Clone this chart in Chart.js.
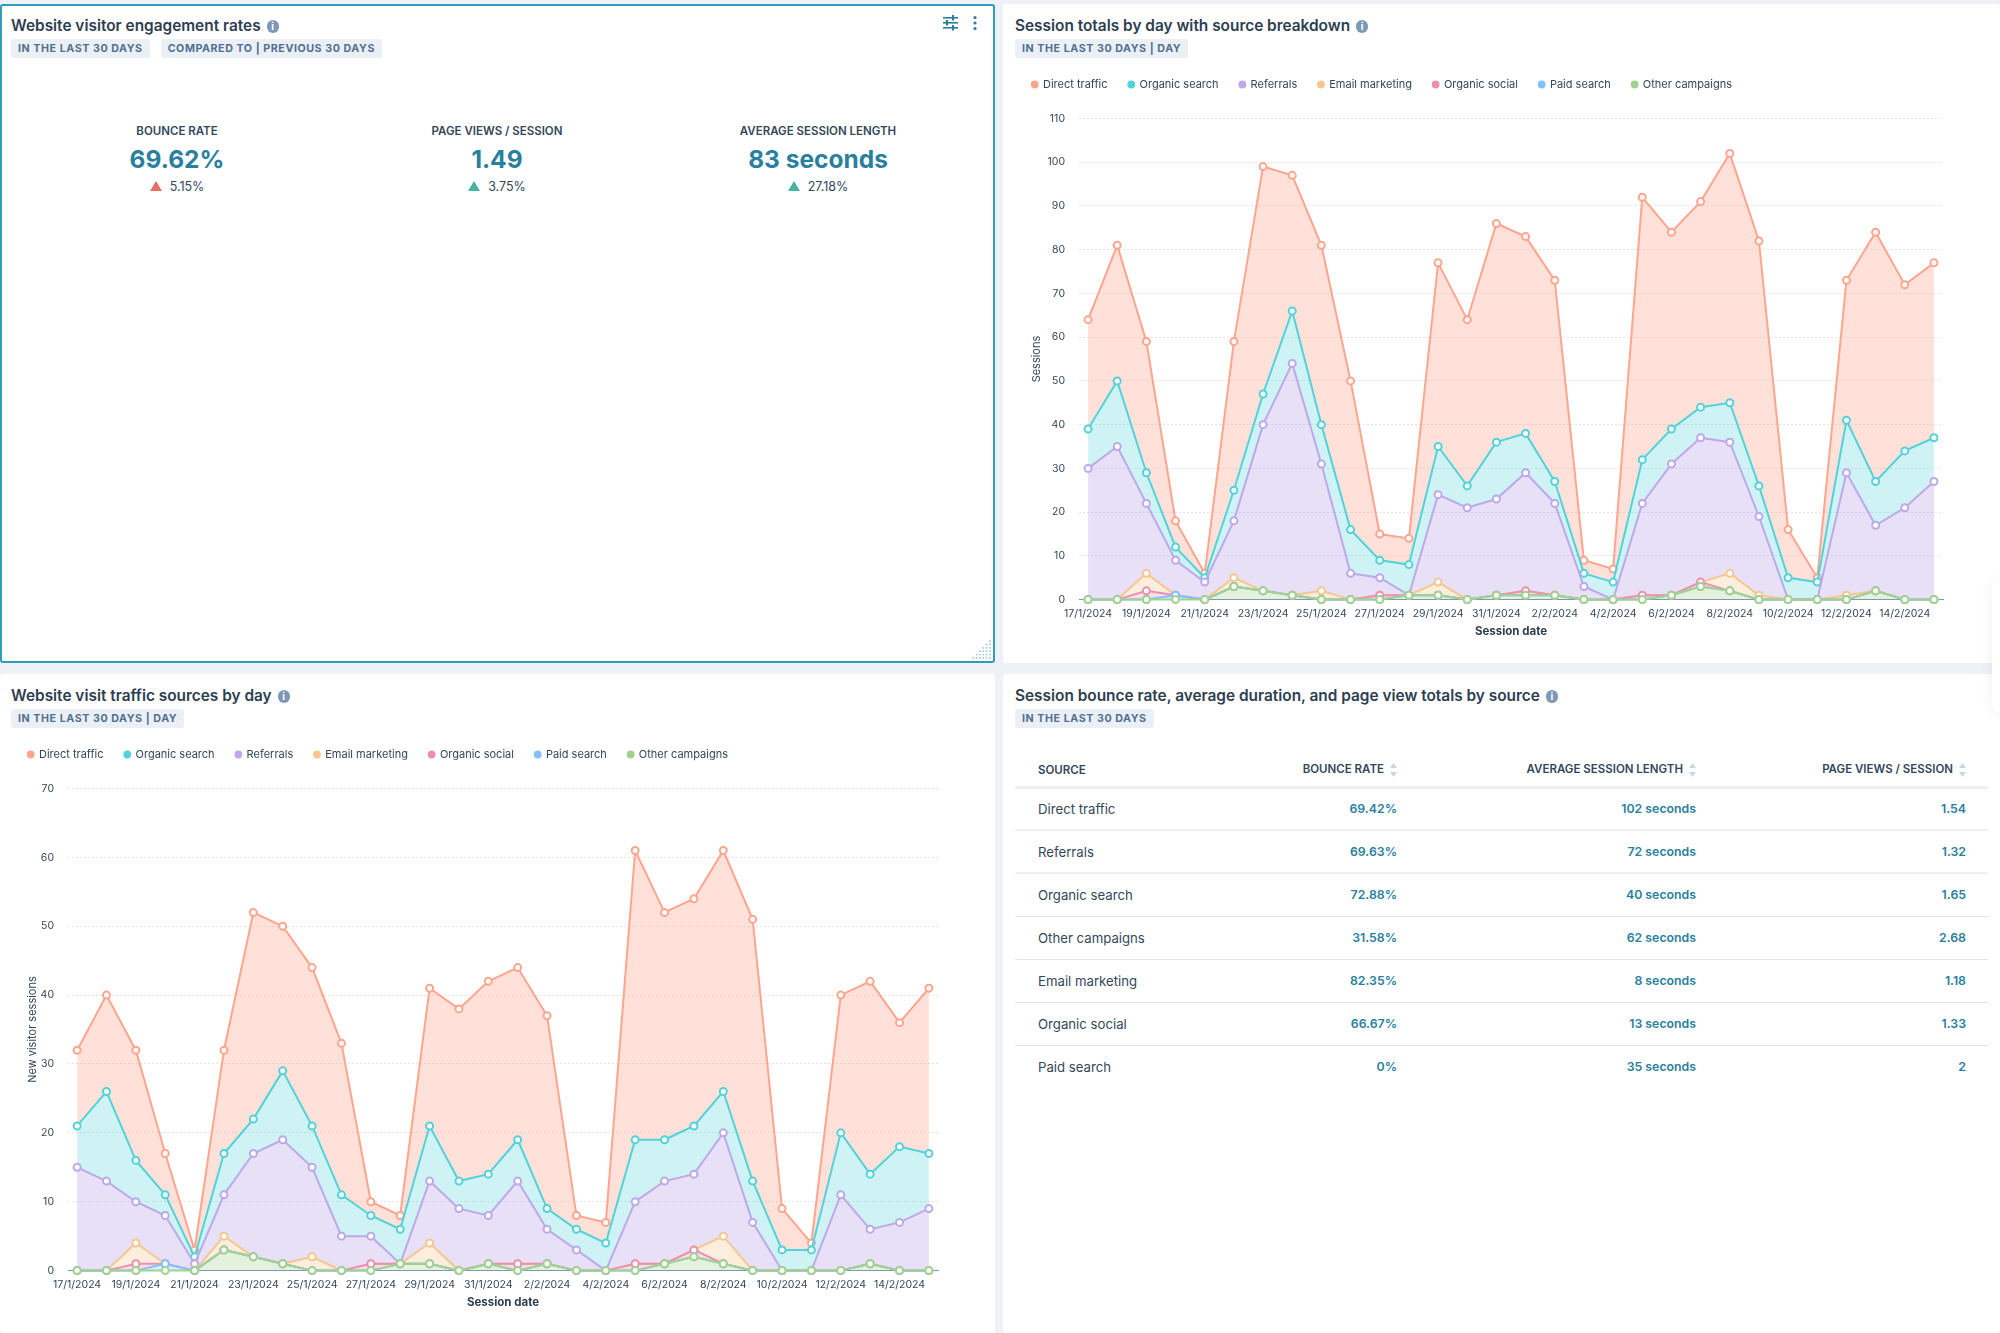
<!DOCTYPE html>
<html>
<head>
<meta charset="utf-8">
<title>Website analytics dashboard</title>
<script src="https://cdn.jsdelivr.net/npm/chart.js@4/dist/chart.umd.js"></script>
<style>
* { box-sizing: border-box; }
html, body { margin: 0; padding: 0; }
body { width: 2000px; height: 1333px; position: relative; overflow: hidden; background: #eef1f6; font-family: Inter, sans-serif; color: #33475b; }
.card { position: absolute; background: #fff; border-radius: 3px; }
#card1 { left: 0; top: 4px; width: 995px; height: 659px; border: 2px solid #2f9cb9; }
#card2 { left: 1003px; top: 4px; width: 997px; height: 659px; }
#card3 { left: 0; top: 674px; width: 995px; height: 659px; }
#card4 { left: 1003px; top: 674px; width: 997px; height: 659px; }
.title { position: absolute; top: 13px; left: 12px; font-size: 15.4px; font-weight: 600; color: #2d3e50; white-space: nowrap; line-height: 18px; }
.info { display: inline-block; width: 12px; height: 13px; border-radius: 6px; background: #7c98b6; color: #fff; font-size: 10px; font-weight: 700; line-height: 13px; text-align: center; margin-left: 6px; vertical-align: 1px; }
.badges { position: absolute; top: 35px; left: 12px; display: flex; gap: 11px; }
.badge { height: 19px; line-height: 19px; padding: 0 7px; background: #eaf0f6; border-radius: 3px; color: #516f90; font-size: 10.7px; font-weight: 700; letter-spacing: 0.55px; white-space: nowrap; }
.kpi { position: absolute; top: 0; width: 300px; text-align: center; }
.kpi .name { position: absolute; top: 118px; width: 100%; font-size: 11.5px; font-weight: 600; line-height: 14px; }
.kpi .val { position: absolute; top: 135px; width: 100%; font-size: 24.5px; font-weight: 700; color: #2a7f9e; line-height: 36px; }
.kpi .delta { position: absolute; top: 174px; width: 100%; font-size: 12.5px; line-height: 14px; }
.tri { display: inline-block; width: 0; height: 0; border-left: 6.5px solid transparent; border-right: 6.5px solid transparent; margin-right: 8px; }
canvas { position: absolute; }
#table { position: absolute; left: 12px; top: 70px; width: 973px; table-layout: fixed; border-collapse: collapse; font-size: 12.3px; }
#table th { height: 43px; padding: 0 0 9px 0; font-size: 11.5px; font-weight: 600; text-align: right; vertical-align: bottom; border-bottom: 3px solid #eaf0f6; white-space: nowrap; }
#table td { height: 43px; padding: 0; text-align: right; font-weight: 600; color: #2a7f9e; border-bottom: 1px solid #dfe3eb; }
#table tr:nth-child(1) td, #table tr:nth-child(2) td { border-bottom-width: 2px; border-bottom-color: #eaf0f6; }
#table tr:last-child td { border-bottom: none; }
#table th:first-child, #table td:first-child { text-align: left; padding-left: 23px; font-weight: 400; font-size: 13.2px; color: #33475b; }
#table th:first-child { font-weight: 600; font-size: 11.5px; }
#table th:last-child, #table td:last-child { padding-right: 22px; }
.sort { display: inline-block; margin-left: 6px; vertical-align: middle; }
#sidePanel { position: absolute; left: 1992px; top: 582px; width: 30px; height: 130px; background: #fff; border-radius: 6px 0 0 6px; box-shadow: 0 0 14px rgba(45,62,80,.08); }
</style>
</head>
<body>
<div class="card" id="card1">
  <div class="title" style="top:11px;left:9px">Website visitor engagement rates<span class="info">i</span></div>
  <div class="badges" style="top:33px;left:9px"><span class="badge">IN THE LAST 30 DAYS</span><span class="badge">COMPARED TO | PREVIOUS 30 DAYS</span></div>
  <svg style="position:absolute;left:941px;top:9px" width="40" height="18" fill="#2a7f9e">
    <rect x="0" y="2" width="15" height="1.6"/><rect x="0" y="7" width="15" height="1.6"/><rect x="0" y="12" width="15" height="1.6"/>
    <rect x="9" y="0" width="2" height="5.5"/><rect x="3" y="5" width="2" height="5.5"/><rect x="9" y="10" width="2" height="5.5"/>
    <circle cx="32" cy="2.5" r="1.6"/><circle cx="32" cy="8" r="1.6"/><circle cx="32" cy="13.5" r="1.6"/>
  </svg>
  <div id="kpis"></div>
  <svg style="position:absolute;right:2px;bottom:2px" width="20" height="20" fill="#9fc4d2" id="grip"></svg>
</div>
<div class="card" id="card2">
  <div class="title">Session totals by day with source breakdown<span class="info">i</span></div>
  <div class="badges"><span class="badge">IN THE LAST 30 DAYS | DAY</span></div>
</div>
<div class="card" id="card3">
  <div class="title" style="left:11px">Website visit traffic sources by day<span class="info">i</span></div>
  <div class="badges" style="left:11px"><span class="badge">IN THE LAST 30 DAYS | DAY</span></div>
</div>
<div class="card" id="card4">
  <div class="title">Session bounce rate, average duration, and page view totals by source<span class="info">i</span></div>
  <div class="badges"><span class="badge">IN THE LAST 30 DAYS</span></div>
  <table id="table">
    <colgroup><col style="width:182px"><col style="width:200px"><col style="width:299px"><col style="width:292px"></colgroup>
    <thead><tr id="tableHead"></tr></thead><tbody id="tableBody"></tbody>
  </table>
</div>
<div id="sidePanel"></div>
<canvas id="sessionsChart" width="938" height="584" style="left:1011px;top:58px"></canvas>
<canvas id="newVisitorsChart" width="937" height="585" style="left:7px;top:728px"></canvas>

<script>
const dateLabels = ['17/1/2024','18/1/2024','19/1/2024','20/1/2024','21/1/2024','22/1/2024','23/1/2024','24/1/2024','25/1/2024','26/1/2024','27/1/2024','28/1/2024','29/1/2024','30/1/2024','31/1/2024','1/2/2024','2/2/2024','3/2/2024','4/2/2024','5/2/2024','6/2/2024','7/2/2024','8/2/2024','9/2/2024','10/2/2024','11/2/2024','12/2/2024','13/2/2024','14/2/2024','15/2/2024'];
const sourceNames = ['Direct traffic','Organic search','Referrals','Email marketing','Organic social','Paid search','Other campaigns'];
const sourceColors = ['#fea58e','#51d3d9','#bda9ea','#f5c78e','#ea90b1','#81c1fd','#a2d28f'];
const fillColors = ['rgba(254,165,142,.33)','rgba(81,211,217,.28)','rgba(189,169,234,.36)','rgba(245,199,142,.3)','rgba(234,144,177,.3)','rgba(129,193,253,.3)','rgba(162,210,143,.3)'];

// sessions per source, top chart
const sessDirect = [25,31,30,6,1,34,52,31,41,34,6,6,42,38,50,45,46,3,3,60,45,47,57,56,11,1,32,57,38,40];
const sessOrganic = [9,15,7,3,1,7,7,12,9,10,4,7,11,5,13,9,5,3,4,10,8,7,9,7,5,4,12,10,13,10];
const sessReferrals = [30,35,16,8,4,13,38,53,29,6,4,0,20,21,22,27,21,3,0,21,30,33,30,18,0,0,28,15,21,27];
const sessEmail = [0,0,4,0,0,2,0,0,2,0,0,0,3,0,0,0,0,0,0,0,0,0,4,1,0,0,1,0,0,0];
const sessSocial = [0,0,2,0,0,0,0,0,0,0,1,0,0,0,0,1,0,0,0,1,0,1,0,0,0,0,0,0,0,0];
const sessPaid = [0,0,0,1,0,0,0,0,0,0,0,0,0,0,0,0,0,0,0,0,0,0,0,0,0,0,0,0,0,0];
const sessOther = [0,0,0,0,0,3,2,1,0,0,0,1,1,0,1,1,1,0,0,0,1,3,2,0,0,0,0,2,0,0];

// new visitor sessions per source, bottom chart
const newDirect = [11,14,16,6,1,15,30,21,23,22,2,2,20,25,28,25,28,2,3,42,33,33,35,38,6,1,20,28,18,24];
const newOrganic = [6,13,6,3,1,6,5,10,6,6,3,5,8,4,6,6,3,3,4,9,6,7,6,6,3,3,9,8,11,8];
const newReferrals = [15,13,6,7,1,6,15,18,13,5,4,0,9,9,7,12,5,3,0,9,12,11,15,7,0,0,11,5,7,9];
const newEmail = [0,0,3,0,0,2,0,0,2,0,0,0,3,0,0,0,0,0,0,0,0,0,4,0,0,0,0,0,0,0];
const newSocial = [0,0,1,0,0,0,0,0,0,0,1,0,0,0,0,1,0,0,0,1,0,1,0,0,0,0,0,0,0,0];
const newPaid = [0,0,0,1,0,0,0,0,0,0,0,0,0,0,0,0,0,0,0,0,0,0,0,0,0,0,0,0,0,0];
const newOther = [0,0,0,0,0,3,2,1,0,0,0,1,1,0,1,0,1,0,0,0,1,2,1,0,0,0,0,1,0,0];

const kpiNames = ['BOUNCE RATE','PAGE VIEWS / SESSION','AVERAGE SESSION LENGTH'];
const kpiValues = ['69.62%','1.49','83 seconds'];
const kpiDeltas = ['5.15%','3.75%','27.18%'];
const kpiColors = ['#e66e64','#45b5a0','#45b5a0'];
const kpiCenters = [177,497,818];

const tableHeaders = ['SOURCE','BOUNCE RATE','AVERAGE SESSION LENGTH','PAGE VIEWS / SESSION'];
const tableSources = ['Direct traffic','Referrals','Organic search','Other campaigns','Email marketing','Organic social','Paid search'];
const tableBounce = ['69.42%','69.63%','72.88%','31.58%','82.35%','66.67%','0%'];
const tableLength = ['102 seconds','72 seconds','40 seconds','62 seconds','8 seconds','13 seconds','35 seconds'];
const tableViews = ['1.54','1.32','1.65','2.68','1.18','1.33','2'];

const FONT = 'Inter, sans-serif';
const TEXT = '#33475b';

// room between the legend and the plot
const legendGap = {
  id: 'legendGap',
  beforeInit(chart) {
    const fit = chart.legend.fit;
    chart.legend.fit = function () {
      fit.call(this);
      this.height += 18.5;
    };
  }
};

function makeDatasets(series) {
  // listed top of stack first, so "order" puts Other campaigns at the bottom
  return series.map((values, i) => ({
    label: sourceNames[i],
    data: values.map((v, x) => ({ x: x, y: v })),
    borderColor: sourceColors[i],
    backgroundColor: fillColors[i],
    borderWidth: 2,
    pointRadius: 3.5,
    pointBorderWidth: 2,
    pointBackgroundColor: '#fff',
    pointBorderColor: sourceColors[i],
    tension: 0,
    clip: false,
    order: series.length - 1 - i,
    fill: i === series.length - 1 ? 'origin' : '+1'
  }));
}

function drawChart(id, series, yMax, yTitle, yWidth, titlePad) {
  new Chart(document.getElementById(id), {
    type: 'line',
    data: { datasets: makeDatasets(series) },
    plugins: [legendGap],
    options: {
      responsive: false,
      animation: false,
      layout: { padding: 0 },
      plugins: {
        tooltip: { enabled: false },
        legend: {
          position: 'top',
          align: 'start',
          labels: {
            usePointStyle: true,
            boxWidth: 5.5,
            boxHeight: 5.5,
            padding: 21,
            color: TEXT,
            font: { family: FONT, size: 11 },
            generateLabels: chart => chart.data.datasets.map((d, i) => ({
              text: d.label,
              fillStyle: sourceColors[i],
              strokeStyle: sourceColors[i],
              lineWidth: 0,
              pointStyle: 'circle',
              datasetIndex: i,
              fontColor: TEXT
            }))
          }
        }
      },
      scales: {
        x: {
          type: 'linear',
          min: -0.31,
          max: 29.31,
          grid: { display: false },
          border: { display: true, color: '#7c98b6', width: 1 },
          ticks: {
            stepSize: 2,
            includeBounds: false,
            autoSkip: false,
            maxRotation: 0,
            color: TEXT,
            padding: 0,
            font: { family: FONT, size: 10.5 },
            callback: value => dateLabels[value]
          },
          title: { display: true, text: 'Session date', color: '#2d3e50', font: { family: FONT, size: 11.5, weight: '700' }, padding: { top: 4, bottom: 4 } }
        },
        y: {
          stacked: true,
          min: 0,
          max: yMax,
          afterFit: scale => { scale.width = yWidth; },
          grid: { color: '#dfe3eb', tickLength: 0 },
          border: { display: false, dash: [2, 2] },
          ticks: { stepSize: 10, padding: 14, color: TEXT, font: { family: FONT, size: 10.5 } },
          title: { display: true, text: yTitle, color: TEXT, font: { family: FONT, size: 11 }, padding: { top: titlePad, bottom: 0 } }
        }
      }
    }
  });
}

drawChart('sessionsChart', [sessDirect, sessOrganic, sessReferrals, sessEmail, sessSocial, sessPaid, sessOther], 110, 'Sessions', 68, 19);
drawChart('newVisitorsChart', [newDirect, newOrganic, newReferrals, newEmail, newSocial, newPaid, newOther], 70, 'New visitor sessions', 61, 19);

// KPI row
document.getElementById('kpis').innerHTML = kpiNames.map((name, i) => `
  <div class="kpi" style="left:${kpiCenters[i] - 150 - 2}px">
    <div class="name">${name}</div>
    <div class="val">${kpiValues[i]}</div>
    <div class="delta"><span class="tri" style="border-bottom:10px solid ${kpiColors[i]}"></span>${kpiDeltas[i]}</div>
  </div>`).join('');

// resize grip in the corner
let grip = '';
for (let r = 0; r < 6; r++) {
  for (let c = 5 - r; c < 6; c++) grip += `<circle cx="${c * 3.4 + 2}" cy="${r * 3.4 + 2}" r="0.9"/>`;
}
document.getElementById('grip').innerHTML = grip;

// table
const sortArrows = '<svg class="sort" width="7" height="14"><path d="M3.5 0L7 5H0z" fill="#cbd6e2"/><path d="M3.5 14L0 9h7z" fill="#cbd6e2"/></svg>';
document.getElementById('tableHead').innerHTML = tableHeaders.map((h, i) =>
  `<th>${h}${i ? sortArrows : ''}</th>`).join('');
document.getElementById('tableBody').innerHTML = tableSources.map((s, i) =>
  `<tr><td>${s}</td><td>${tableBounce[i]}</td><td>${tableLength[i]}</td><td>${tableViews[i]}</td></tr>`).join('');
</script>
</body>
</html>
